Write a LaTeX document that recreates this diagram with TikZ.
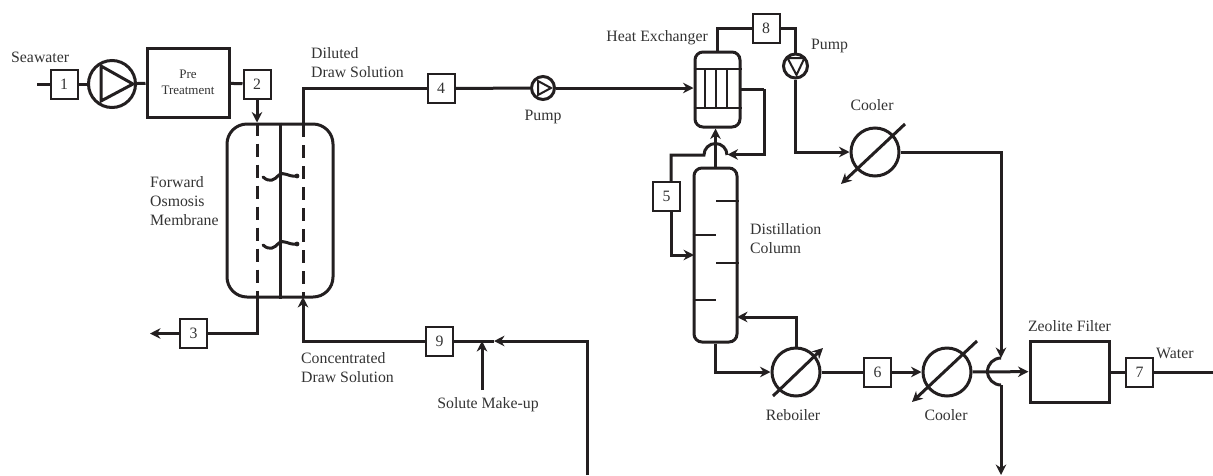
\documentclass[tikz,border=0pt]{standalone}
\usepackage{fontspec}
\setmainfont{Liberation Serif}
\usetikzlibrary{arrows.meta,positioning,calc}
\definecolor{inkline}{HTML}{231F20}
\definecolor{inktext}{HTML}{333333}

\begin{document}
\begin{tikzpicture}[
    x=1pt, y=-1pt,
    font=\fontsize{15.8}{18}\selectfont,
    >={Stealth[length=10.5pt,width=10.5pt]},
    line/.style={draw=inkline, line width=3pt},
    stream/.style={line, ->},
    thin line/.style={draw=inkline, line width=2pt},
    numbox/.style={rectangle, draw=inkline, line width=2pt, fill=white, text=inktext, minimum width=27pt, minimum height=29pt, inner sep=0pt},
    unit/.style={rectangle, draw=inkline, line width=3pt, inner sep=0pt, align=center, text=inktext},
    exch/.style={circle, draw=inkline, line width=3pt, minimum size=48pt, inner sep=0pt},
    pumpc/.style={circle, draw=inkline, line width=3pt, inner sep=0pt},
    vessel/.style={rectangle, draw=inkline, line width=3pt, inner sep=0pt},
    txt/.style={text=inktext, align=left, inner sep=0pt}
]
\useasboundingbox (0,0) rectangle (1213,475);

% feed side
\node[numbox] (b1) at (64,84) {1};
\node[pumpc, minimum size=47pt] (pa) at (112,84) {};
\node[unit, minimum width=82pt, minimum height=69pt, font=\fontsize{13}{16}\selectfont] (pre) at (188,82.5) {Pre\\Treatment};
\node[numbox] (b2) at (257,84) {2};
\node[vessel, rounded corners=20pt, minimum width=106pt, minimum height=173pt] (fo) at (280,210.5) {};
\node[numbox] (b3) at (193.5,333.5) {3};
\node[numbox] (b4) at (441,88.5) {4};
\node[numbox] (b9) at (439.5,341) {9};
\node[pumpc, minimum size=23pt] (pb) at (543,88) {};

% recovery side
\node[vessel, rounded corners=8pt, minimum width=45pt, minimum height=75pt] (hx) at (717.5,89.5) {};
\node[numbox] (b8) at (766,28) {8};
\node[pumpc, minimum size=24pt] (pc) at (795.5,66) {};
\node[exch] (c1) at (875,152) {};
\node[numbox] (b5) at (666.5,196.5) {5};
\node[vessel, rounded corners=8pt, minimum width=43pt, minimum height=174pt] (col) at (715.5,255) {};
\node[exch] (reb) at (796,372) {};
\node[numbox] (b6) at (877.5,372) {6};
\node[exch] (c2) at (947,372) {};
\node[unit, minimum width=79pt, minimum height=61pt] (zeo) at (1069.5,371.5) {};
\node[numbox] (b7) at (1139.5,372) {7};

% free ends and bends
\coordinate (sw) at (37,84);
\coordinate (out3) at (150,333.5);
\coordinate (dil) at (303,124);
\coordinate (con) at (303,297);
\coordinate (mix) at (494,341);
\coordinate (mk) at (482,390);
\coordinate (ret) at (587,475);
\coordinate (w) at (1213,372);
\coordinate (ja) at (704,155);
\coordinate (jin) at (727.5,154.5);
\coordinate (k5a) at (671,182);
\coordinate (k5b) at (671,211);
\coordinate (hxout) at (740,89);
\coordinate (hxr) at (764,89);
\coordinate (feed) at (694,255);
\coordinate (rtn) at (737,317);
\coordinate (jb) at (1001,358);
\coordinate (jc) at (1001,385);
\coordinate (prod) at (1001,475);

% labels
\node[txt, anchor=west] (t1) at (11,57) {Seawater};
\node[txt, anchor=north west] (t2) at (311,47) {Diluted\\[1pt]Draw Solution};
\node[txt, anchor=north west] (t3) at (150,176) {Forward\\[1pt]Osmosis\\[1pt]Membrane};
\node[txt, anchor=north west] (t4) at (301,352) {Concentrated\\[1pt]Draw Solution};
\node[txt, below=7pt of mk, xshift=6pt] (t5) {Solute Make-up};
\node[txt, below=9pt of pb] (t6) {Pump};
\node[txt, anchor=east] (t7) at (708,38) {Heat Exchanger};
\node[txt, anchor=west] (t8) at (811,46) {Pump};
\node[txt, above=16pt of c1, xshift=-3pt] (t9) {Cooler};
\node[txt, anchor=north west] (t10) at (750,223) {Distillation\\[1pt]Column};
\node[txt, below=12pt of reb, xshift=-3pt] (t11) {Reboiler};
\node[txt, below=12pt of c2, xshift=-1pt] (t12) {Cooler};
\node[txt, above=8pt of zeo] (t13) {Zeolite Filter};
\node[txt, anchor=west] (t14) at (1156,353) {Water};

% pump symbols
\draw[line] (pa.center) ++(-11,-18) -- ++(0,35) -- ++(32,-17) -- cycle;
\draw[thin line] (pb.center) ++(-5,-7) -- ++(0,14) -- ++(13,-7) -- cycle;
\draw[thin line] (pc.center) ++(-8,-8) -- ++(17,0) -- ++(-8,17) -- cycle;

% membrane
\draw[line] (fo.north) -- (fo.south);
\draw[line, dash pattern=on 13pt off 8pt] (b2 |- fo.north) -- (b2 |- fo.south);
\draw[line, dash pattern=on 13pt off 8pt] (dil) -- (con);
\foreach \y in {177,245} {
    \draw[inkline, line width=3pt, line cap=round] (263,\y) .. controls (270,\y+6) and (274,\y+3) .. (279,\y-2) .. controls (284,\y-6) and (288,\y) .. (296,\y-1);
    \fill[inkline] (297,\y-1) circle (2.4pt);
}

% heat exchanger tubes
\draw[thin line] (hx.west |- 0,69) -- (hx.east |- 0,69);
\draw[thin line] (hx.west |- 0,108) -- (hx.east |- 0,108);
\foreach \x in {705,716,727} {
    \draw[thin line] (\x,69) -- (\x,108);
}

% column trays
\foreach \y/\s in {201/east,235/west,263/east,300/west} {
    \draw[thin line] (col.\s |- 0,\y) -- (col.center |- 0,\y);
}

% exchanger slashes
\draw[line, <-] ($(c1.center)+(-34,32)$) -- ($(c1.center)+(30,-28)$);
\draw[line, ->] ($(reb.center)+(-23,24)$) -- ($(reb.center)+(27,-24)$);
\draw[line, <-] ($(c2.center)+(-35,30)$) -- ($(c2.center)+(30,-31)$);

% connectors
\draw[line] (sw) -- (b1);
\draw[line] (b1) -- (pa);
\draw[line] (pa) -- (pre);
\draw[line] (pre) -- (b2);
\draw[stream] (b2) -- (b2 |- fo.north);
\draw[line] (dil) |- (b4);
\draw[line] (b4) -- (pb);
\draw[stream] (pb) -- (hx.west |- pb);
\draw[line] (b2 |- fo.south) |- (b3);
\draw[stream] (b3) -- (out3);
\draw[stream] (b9) -| (con);
\draw[line] (b9) -- (mix);
\draw[stream] (mk) -- (mk |- mix);
\draw[stream] (ret) |- (mix);
\draw[line] (hx.north) |- (b8);
\draw[line] (b8) -| (pc);
\draw[stream] (pc) |- (c1);
\draw[stream] (c1) -| (jb);
\draw[line] (jb) arc[start angle=90, end angle=270, radius=13.5pt];
\draw[stream] (jc) -- (prod);
\draw[line] (hxout) -- (hxr);
\draw[stream] (hxr) |- (jin);
\draw[stream] (col.north) -- (col.north |- hx.south);
\draw[line] (k5a) |- (ja) arc[start angle=180, end angle=0, radius=11.5pt];
\draw[stream] (k5b) |- (feed);
\draw[stream] (col.south) |- (reb);
\draw[stream] (reb) |- (rtn);
\draw[line] (reb) -- (b6);
\draw[stream] (b6) -- (c2);
\draw[stream] (c2) -- (zeo);
\draw[line] (zeo.east |- b7) -- (b7);
\draw[line] (b7) -- (w);
\end{tikzpicture}
\end{document}
